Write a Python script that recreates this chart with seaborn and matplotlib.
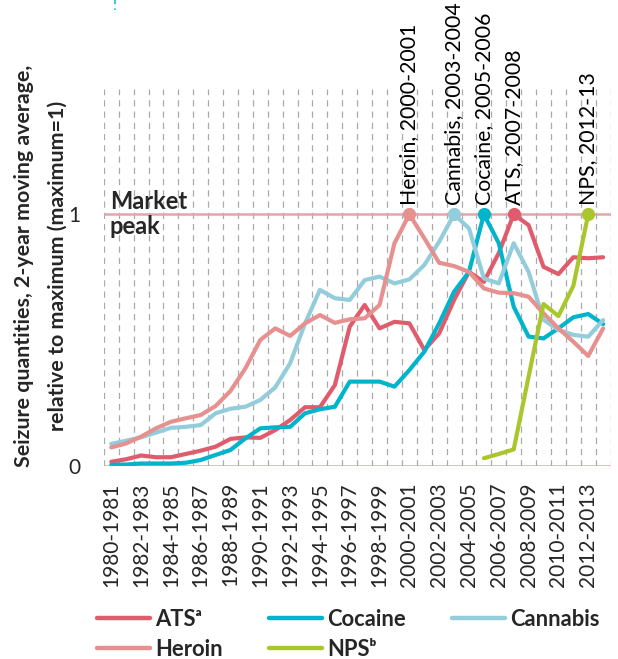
import numpy as np
import pandas as pd
import matplotlib
matplotlib.use("Agg")
import matplotlib.pyplot as plt
import seaborn as sns
from matplotlib.lines import Line2D
from matplotlib import transforms

# Two-year periods on the x axis
periods = [
    "1980-1981", "1981-1982", "1982-1983", "1983-1984", "1984-1985", "1985-1986",
    "1986-1987", "1987-1988", "1988-1989", "1989-1990", "1990-1991", "1991-1992",
    "1992-1993", "1993-1994", "1994-1995", "1995-1996", "1996-1997", "1997-1998",
    "1998-1999", "1999-2000", "2000-2001", "2001-2002", "2002-2003", "2003-2004",
    "2004-2005", "2005-2006", "2006-2007", "2007-2008", "2008-2009", "2009-2010",
    "2010-2011", "2011-2012", "2012-2013", "2013-2014",
]

# Seizure quantities relative to each drug's maximum (maximum = 1)
ats = [0.015, 0.025, 0.04, 0.033, 0.033, 0.046, 0.059, 0.075, 0.106, 0.112,
       0.11, 0.141, 0.181, 0.232, 0.232, 0.32, 0.553, 0.639, 0.546, 0.572,
       0.566, 0.46, 0.526, 0.659, 0.771, 0.731, 0.846, 1.0, 0.957, 0.791,
       0.762, 0.829, 0.825, 0.829]
cocaine = [0.003, 0.004, 0.008, 0.008, 0.008, 0.011, 0.022, 0.042, 0.062, 0.108,
           0.148, 0.152, 0.154, 0.208, 0.224, 0.234, 0.334, 0.334, 0.334, 0.314,
           0.38, 0.453, 0.566, 0.692, 0.771, 1.0, 0.885, 0.632, 0.513, 0.506,
           0.546, 0.59, 0.603, 0.563]
cannabis = [0.086, 0.099, 0.112, 0.131, 0.15, 0.154, 0.161, 0.208, 0.226, 0.234,
            0.261, 0.311, 0.407, 0.566, 0.699, 0.666, 0.659, 0.738, 0.752, 0.725,
            0.741, 0.798, 0.891, 1.0, 0.944, 0.745, 0.725, 0.885, 0.771, 0.58,
            0.54, 0.52, 0.513, 0.579]
heroin = [0.072, 0.088, 0.115, 0.148, 0.174, 0.188, 0.201, 0.237, 0.297, 0.387,
          0.5, 0.546, 0.516, 0.566, 0.599, 0.568, 0.582, 0.586, 0.639, 0.885,
          1.0, 0.905, 0.807, 0.794, 0.771, 0.705, 0.688, 0.686, 0.672, 0.606,
          0.546, 0.493, 0.436, 0.546]
nps = [None] * 25 + [0.029, 0.046, 0.064, 0.354, 0.643, 0.595, 0.715, 1.0, None]

series_names = ["ATS", "Cocaine", "Cannabis", "Heroin", "NPS"]
legend_labels = ["ATS\u1d43", "Cocaine", "Cannabis", "Heroin", "NPS\u1d47"]
peak_labels = ["ATS, 2007-2008", "Cocaine, 2005-2006", "Cannabis, 2003-2004",
               "Heroin, 2000-2001", "NPS, 2012-13"]
colors = ["#E05C6C", "#00B4CC", "#93CDDC", "#E6918F", "#A9C62D"]

sns.set_style("white")
plt.rcParams["font.family"] = ["Lato", "DejaVu Sans"]

frames = []
for name, vals in zip(series_names, [ats, cocaine, cannabis, heroin, nps]):
    frames.append(pd.DataFrame({
        "pos": np.arange(len(periods)),
        "period": periods,
        "value": pd.array(vals, dtype="Float64").astype(float),
        "drug": name,
    }))
df = pd.concat(frames, ignore_index=True).dropna(subset=["value"])

fig = plt.figure(figsize=(6.18, 6.59), dpi=100)
ax = fig.add_axes([0.168, 0.2936, 0.82, 0.5718])

# Reference lines at 0 and at the market peak
ax.axhline(0, color="#DFA6AB", lw=1.8, zorder=1)
ax.axhline(1, color="#DFA6AB", lw=1.8, zorder=1)

palette = dict(zip(series_names, colors))
sns.lineplot(data=df, x="pos", y="value", hue="drug", hue_order=series_names,
             palette=palette, lw=3.0, legend=False, sort=True, ax=ax, zorder=3)

# Peak markers and their labels
peaks = df.loc[df.groupby("drug")["value"].idxmax()]
for name, label in zip(series_names, peak_labels):
    row = peaks[peaks["drug"] == name].iloc[0]
    ax.plot(row["pos"], row["value"], "o", ms=8.5, color=palette[name], zorder=4,
            clip_on=False)
    ax.annotate(label, xy=(row["pos"], row["value"]), xytext=(0, 6.5),
                textcoords="offset points", rotation=90, ha="center", va="bottom",
                fontsize=15.3, color="black", annotation_clip=False)

trans = transforms.blended_transform_factory(ax.transAxes, ax.transData)
ax.text(0.012, 1.0, "Market\npeak", transform=trans, ha="left", va="center",
        fontsize=17, fontweight="bold", linespacing=1.1, zorder=5)

ax.set_xlim(-0.5, len(periods) - 0.5)
ax.set_ylim(0, 1.5)

ax.set_xticks(np.arange(0, len(periods), 2))
ax.set_xticklabels(periods[::2], rotation=90, fontsize=15)
ax.set_xticks(np.arange(-0.5, len(periods), 1), minor=True)
ax.grid(False)
ax.grid(which="minor", axis="x", color="#AAAAAA", lw=0.9, ls=(0, (5, 4)))
ax.set_yticks([0, 1])
ax.set_yticklabels(["0", "1"], fontsize=15)
ax.tick_params(axis="x", which="both", length=0, pad=12)
ax.tick_params(axis="y", length=0, pad=17)
ax.set_xlabel("")
ax.set_ylabel("Seizure quantities, 2-year moving average,\nrelative to maximum (maximum=1)",
              fontsize=15.4, fontweight="bold", linespacing=1.85, va="center")
ax.yaxis.set_label_coords(-0.124, 0.53)
for s in ax.spines.values():
    s.set_visible(False)

handles = [Line2D([], [], color=c, lw=3.2, solid_capstyle="round") for c in colors]
order = [0, 3, 1, 4, 2]
fig.legend([handles[i] for i in order], [legend_labels[i] for i in order],
           ncol=3, loc="center left", bbox_to_anchor=(0.157, 0.0375),
           frameon=False, prop={"weight": "bold", "size": 15.8},
           handlelength=2.4, handletextpad=0.25, columnspacing=2.1,
           labelspacing=0.4, borderpad=0, borderaxespad=0)

# short dotted mark at the top edge
fig.add_artist(Line2D([115 / 618, 115 / 618], [1.0, 1 - 10 / 659],
                      color="#4FC3D9", lw=1.5, ls=(0, (2, 2)),
                      transform=fig.transFigure))

fig.savefig("out.png", dpi=100)
